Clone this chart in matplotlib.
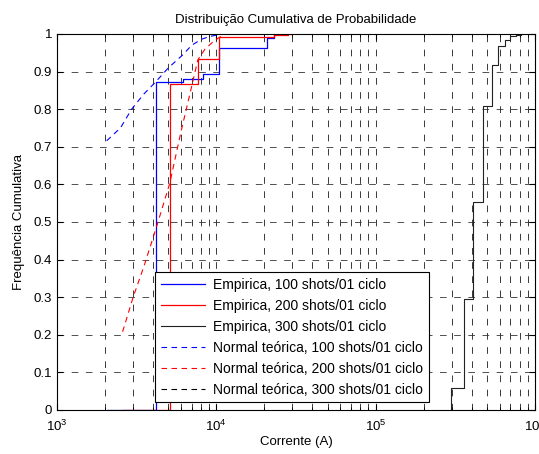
import matplotlib
matplotlib.use('Agg')
import matplotlib.pyplot as plt
from matplotlib.ticker import LogLocator, FixedLocator

plt.rcParams['font.family'] = ['Liberation Sans', 'DejaVu Sans']
plt.rcParams['font.size'] = 9.5

# empirical CDFs (step start / jump positions and levels)
emp100_x = [2050, 4170, 6170, 8220, 10400, 20700, 23000, 24000]
emp100_y = [0, 0.873, 0.88, 0.893, 0.962, 0.99, 1.0, 1.0]
emp200_x = [2600, 5100, 7660, 10400, 22900, 28000, 30000]
emp200_y = [0, 0.866, 0.933, 0.991, 0.997, 1.0, 1.0]
emp300_x = [298000, 298000, 356000, 411000, 471000, 538000, 590000, 650000,
            692000, 762000, 818000, 830000]
emp300_y = [0, 0.058, 0.294, 0.553, 0.808, 0.918, 0.968, 0.984,
            0.995, 0.997, 1.0, 1.0]

# theoretical normal CDFs
norm100_x = [2050, 2500, 2940, 3500, 4170, 5000, 6170, 7000, 8070, 9000, 10000]
norm100_y = [0.716, 0.75, 0.80, 0.84, 0.873, 0.91, 0.945, 0.97, 0.986, 0.993, 0.997]
norm200_x = [2580, 3010, 3500, 4220, 5100, 6000, 7160, 7650, 8500, 9690, 10800]
norm200_y = [0.208, 0.301, 0.38, 0.488, 0.603, 0.74, 0.878, 0.931, 0.96, 0.982, 0.995]
norm300_x = []
norm300_y = []

labels = ['Empirica, 100 shots/01 ciclo', 'Empirica, 200 shots/01 ciclo',
          'Empirica, 300 shots/01 ciclo', 'Normal teórica, 100 shots/01 ciclo',
          'Normal teórica, 200 shots/01 ciclo', 'Normal teórica, 300 shots/01 ciclo']

fig = plt.figure(figsize=(5.39, 4.54), dpi=100)
ax = fig.add_axes([57 / 539, 44 / 454, 478 / 539, 376 / 454])

ax.step(emp100_x, emp100_y, where='post', color='#0000ff', lw=0.9, label=labels[0])
ax.step(emp200_x, emp200_y, where='post', color='#ff0000', lw=0.9, label=labels[1])
ax.step(emp300_x, emp300_y, where='post', color='#222222', lw=0.8, label=labels[2])
ax.plot(norm100_x, norm100_y, color='#0000ff', lw=0.8, ls=(0, (5, 4)), label=labels[3])
ax.plot(norm200_x, norm200_y, color='#ff0000', lw=0.8, ls=(0, (5, 4)), label=labels[4])
ax.plot(norm300_x, norm300_y, color='k', lw=0.8, ls=(0, (5, 4)), label=labels[5])

ax.set_xscale('log')
ax.set_xlim(1e3, 1e6)
ax.set_ylim(0, 1)
ax.yaxis.set_major_locator(FixedLocator([i / 10 for i in range(11)]))
ax.set_yticklabels(['0', '0.1', '0.2', '0.3', '0.4', '0.5', '0.6', '0.7', '0.8', '0.9', '1'])
ax.xaxis.set_minor_locator(LogLocator(base=10, subs=range(2, 10)))

ax.grid(True, which='both', axis='x', color='0.1', lw=0.6, ls=(0, (8, 9)))
ax.grid(True, which='major', axis='y', color='0.2', lw=0.6, ls=(0, (8, 9)))
ax.tick_params(which='both', direction='in', top=True, right=True, labelsize=9.5)
ax.tick_params(which='major', length=4)
ax.tick_params(which='minor', length=2.5)
ax.tick_params(axis='x', which='major', pad=6)
for s in ax.spines.values():
    s.set_linewidth(0.8)

ax.set_title('Distribuição Cumulativa de Probabilidade', fontsize=9.5, pad=8)
ax.set_xlabel('Corrente (A)', fontsize=9.5, labelpad=2)
ax.set_ylabel('Frequência Cumulativa', fontsize=9.5, labelpad=6)

leg = ax.legend(loc='lower left', bbox_to_anchor=(0.205, 0.021), fontsize=10,
                fancybox=False, framealpha=1, edgecolor='k', borderpad=0.4,
                labelspacing=0.5, handlelength=3.2, handletextpad=0.6,
                borderaxespad=0)
leg.get_frame().set_linewidth(0.8)

fig.savefig('out.png', dpi=100)
